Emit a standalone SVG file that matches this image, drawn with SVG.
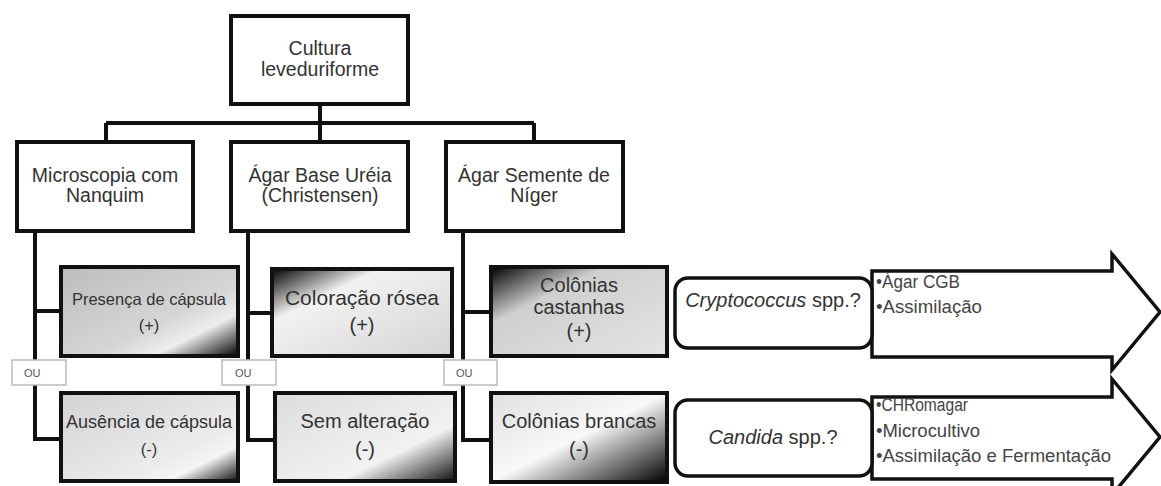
<svg xmlns="http://www.w3.org/2000/svg" width="1161" height="486" viewBox="0 0 1161 486">
<defs>
<style>
.box{fill:#fff;stroke:#111;stroke-width:4}
.gbox{stroke:#111;stroke-width:4}
.rbox{fill:#fff;stroke:#111;stroke-width:3.5}
.ou{fill:#fff;stroke:#bbb;stroke-width:1.5}
.arrow{fill:#fff;stroke:#111;stroke-width:3.5;stroke-linejoin:miter}
.con{fill:none;stroke:#111;stroke-width:4;stroke-linejoin:miter}
text{font-family:"Liberation Sans",Arial,sans-serif;fill:#333}
.t19{font-size:19.5px;text-anchor:middle}
.t20{font-size:20px;text-anchor:middle}
.t17{font-size:16.5px;text-anchor:middle}
.oul{font-size:11px;fill:#555}
.bul{font-size:18px;fill:#444}
</style>
<linearGradient id="gPos1" x1="0" y1="0" x2="1" y2="1">
<stop offset="0" stop-color="#bcbcbc"/><stop offset="0.6" stop-color="#d6d6d6"/><stop offset="0.76" stop-color="#eeeeee"/><stop offset="1" stop-color="#000"/>
</linearGradient>
<linearGradient id="gPos2" x1="0" y1="0" x2="1" y2="1">
<stop offset="0" stop-color="#000"/><stop offset="0.3" stop-color="#f2f2f2"/><stop offset="1" stop-color="#d4d4d4"/>
</linearGradient>
<linearGradient id="gPos3" x1="0" y1="0" x2="1" y2="1">
<stop offset="0" stop-color="#000"/><stop offset="0.32" stop-color="#cfcfcf"/><stop offset="1" stop-color="#e4e4e4"/>
</linearGradient>
<linearGradient id="gNeg1" x1="0" y1="0" x2="1" y2="1">
<stop offset="0" stop-color="#d2d2d2"/><stop offset="0.68" stop-color="#ececec"/><stop offset="0.8" stop-color="#f5f5f5"/><stop offset="1" stop-color="#111"/>
</linearGradient>
<linearGradient id="gNeg2" x1="0" y1="0" x2="1" y2="1">
<stop offset="0" stop-color="#dcdcdc"/><stop offset="0.68" stop-color="#f2f2f2"/><stop offset="1" stop-color="#111"/>
</linearGradient>
<linearGradient id="gNeg3" x1="0" y1="0" x2="1" y2="1">
<stop offset="0" stop-color="#e0e0e0"/><stop offset="0.5" stop-color="#f8f8f8"/><stop offset="1" stop-color="#000"/>
</linearGradient>
</defs>
<rect width="1161" height="486" fill="#fff"/>

<g id="connectors">
<path class="con" d="M320,104 V123 M106,123 H534 M106,123 V142 M320,123 V142 M534,123 V142"/>
<path class="con" d="M35,231 V439 H61 M35,311 H61"/>
<path class="con" d="M248,231 V440 H275 M248,313 H272"/>
<path class="con" d="M463,231 V440 H491 M463,312 H491"/>
</g>

<g id="n-cultura">
<rect class="box" x="231" y="16" width="177" height="88"/>
<text class="t19" x="320" y="55">Cultura</text>
<text class="t19" x="320" y="76">leveduriforme</text>
</g>

<g id="n-micro">
<rect class="box" x="17" y="142" width="176" height="89"/>
<text class="t19" x="105" y="182">Microscopia com</text>
<text class="t19" x="105" y="202">Nanquim</text>
</g>
<g id="n-ureia">
<rect class="box" x="231" y="142" width="177" height="89"/>
<text class="t19" x="320" y="182">Ágar Base Uréia</text>
<text class="t19" x="320" y="202">(Christensen)</text>
</g>
<g id="n-niger">
<rect class="box" x="446" y="142" width="177" height="89"/>
<text class="t19" x="534" y="182">Ágar Semente de</text>
<text class="t19" x="534" y="202">Níger</text>
</g>

<g id="n-presenca">
<rect class="gbox" x="61" y="267" width="177" height="89" fill="url(#gPos1)"/>
<text class="t17" x="149" y="305">Presença de cápsula</text>
<text class="t17" x="149" y="331">(+)</text>
</g>
<g id="n-ausencia">
<rect class="gbox" x="61" y="393" width="177" height="88" fill="url(#gNeg1)"/>
<text class="t17" x="149" y="428" style="font-size:18px">Ausência de cápsula</text>
<text class="t17" x="149" y="455">(-)</text>
</g>
<g id="n-rosea">
<rect class="gbox" x="272" y="269" width="180" height="87" fill="url(#gPos2)"/>
<text class="t20" x="362" y="305" style="font-size:21px">Coloração rósea</text>
<text class="t20" x="362" y="332">(+)</text>
</g>
<g id="n-semalt">
<rect class="gbox" x="275" y="393" width="180" height="88" fill="url(#gNeg2)"/>
<text class="t20" x="365" y="428">Sem alteração</text>
<text class="t20" x="365" y="456">(-)</text>
</g>
<g id="n-castanhas">
<rect class="gbox" x="491" y="267" width="176" height="89" fill="url(#gPos3)"/>
<text class="t20" x="579" y="292">Colônias</text>
<text class="t20" x="579" y="314">castanhas</text>
<text class="t20" x="579" y="338">(+)</text>
</g>
<g id="n-brancas">
<rect class="gbox" x="491" y="393" width="176" height="89" fill="url(#gNeg3)"/>
<text class="t20" x="579" y="428">Colônias brancas</text>
<text class="t20" x="579" y="456">(-)</text>
</g>

<g id="ou1"><rect class="ou" x="12" y="360" width="54" height="25"/><text class="oul" x="24" y="377">OU</text></g>
<g id="ou2"><rect class="ou" x="222" y="360" width="54" height="25"/><text class="oul" x="235" y="377">OU</text></g>
<g id="ou3"><rect class="ou" x="444" y="360" width="53" height="25"/><text class="oul" x="456" y="377">OU</text></g>

<g id="arrow-crypto">
<path class="arrow" d="M872,271 H1112 V254 L1160,312 L1112,370 V357 H872 Z"/>
<text class="bul" x="876" y="288" textLength="84" lengthAdjust="spacingAndGlyphs">•Ágar CGB</text>
<text class="bul" x="876" y="313" textLength="106" lengthAdjust="spacingAndGlyphs">•Assimilação</text>
</g>
<g id="arrow-candida">
<path class="arrow" d="M872,397 H1112 V379 L1160,437 L1112,495 V479 H872 Z"/>
<text class="bul" x="876" y="411" textLength="92" lengthAdjust="spacingAndGlyphs">•CHRomagar</text>
<text class="bul" x="876" y="437" textLength="104" lengthAdjust="spacingAndGlyphs">•Microcultivo</text>
<text class="bul" x="876" y="462" textLength="235" lengthAdjust="spacingAndGlyphs">•Assimilação e Fermentação</text>
</g>

<g id="n-crypto">
<rect class="rbox" x="675" y="278" width="197" height="70" rx="13"/>
<text x="773" y="307" style="font-size:20px;text-anchor:middle"><tspan font-style="italic">Cryptococcus</tspan> spp.?</text>
</g>
<g id="n-candida">
<rect class="rbox" x="675" y="400" width="197" height="76" rx="13"/>
<text x="773" y="444" style="font-size:20px;text-anchor:middle"><tspan font-style="italic">Candida</tspan> spp.?</text>
</g>
</svg>
